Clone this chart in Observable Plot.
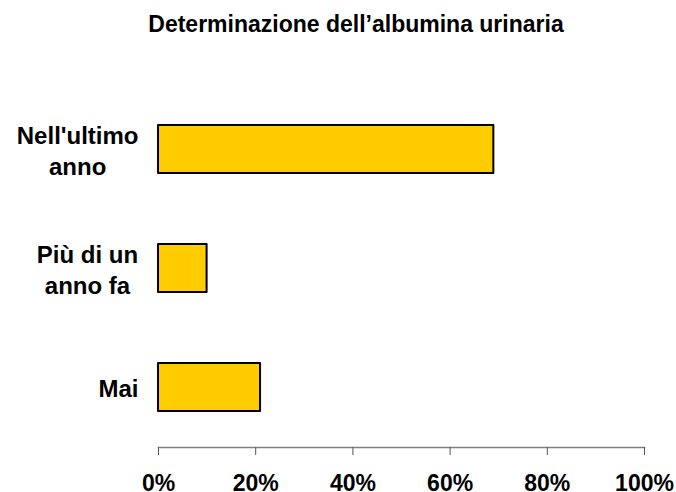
<!DOCTYPE html>
<html><head><meta charset="utf-8">
<script src="https://cdn.jsdelivr.net/npm/d3@7"></script>
<script src="https://cdn.jsdelivr.net/npm/@observablehq/plot@0.6"></script>
<style>
body{margin:0;background:#fff;font-family:"Liberation Sans",Arial,sans-serif;}
#title{height:50px;box-sizing:border-box;padding-top:13px;padding-left:36px;text-align:center;font-weight:bold;font-size:23px;line-height:23px;color:#000;white-space:nowrap;}
</style></head><body>
<div id="title">Determinazione dell’albumina urinaria</div>
<div id="chart"></div>
<script>
const categories = ["Nell'ultimo\nanno", "Più di un\nanno fa", "Mai"];
const values = [69, 10, 21];
const xTicks = [0, 20, 40, 60, 80, 100];

const data = categories.map((c, i) => ({category: c, value: values[i]}));
const font = '"Liberation Sans", Arial, sans-serif';

const plot = Plot.plot({
  width: 676, height: 442,
  marginTop: 38, marginBottom: 45, marginLeft: 158, marginRight: 32,
  style: {fontFamily: font, fontSize: "23px", fontWeight: "bold", color: "#000", background: "#fff"},
  x: {domain: [0, 100], axis: null},
  y: {domain: categories, paddingInner: 0.6, paddingOuter: 0.3, axis: null},
  marks: [
    Plot.barX(data, {x: "value", y: "category", fill: "#FFCC00", stroke: "#000", strokeWidth: 2, strokeLinejoin: "round"}),
    Plot.frame({anchor: "bottom", stroke: "#808080", strokeWidth: 1.5}),
    Plot.axisX({ticks: xTicks, tickFormat: d => d + "%", tickSize: 8, tickPadding: 19, stroke: "#555", label: null, fontSize: 23, fontWeight: "bold", fill: "#000"}),
    Plot.text(data, {y: "category", text: "category", frameAnchor: "left", textAnchor: "end", dx: -20, lineHeight: 1.28, fontSize: 24, fontWeight: "bold", fill: "#000"})
  ]
});
document.getElementById("chart").appendChild(plot);

// center the lines of each category label within its right-aligned block
plot.querySelectorAll('g[aria-label="text"] text').forEach(t => {
  const w = t.getBBox().width;
  t.setAttribute("text-anchor", "middle");
  t.setAttribute("transform", (t.getAttribute("transform") || "") + ` translate(${-w / 2},0)`);
});
</script>
</body></html>
